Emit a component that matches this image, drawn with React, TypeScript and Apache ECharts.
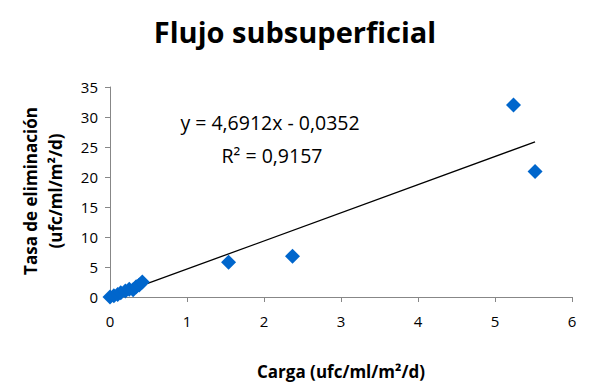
import React, { useEffect, useRef } from "react";
import * as echarts from "echarts";

// Carga (x) and Tasa de eliminación (y) for each sample
const cargaValues = [0, 0.05, 0.1, 0.14, 0.2, 0.25, 0.3, 0.34, 0.38, 0.42, 1.54, 2.37, 5.24, 5.52];
const tasaValues = [0, 0.2, 0.4, 0.7, 1.0, 1.3, 1.2, 1.7, 2.0, 2.5, 5.8, 6.8, 32.0, 20.9];

// Linear trend line coefficients and fit quality
const slope = 4.6912;
const intercept = -0.0352;
const rSquared = 0.9157;

const xTicks = [0, 1, 2, 3, 4, 5, 6];
const yTicks = [0, 5, 10, 15, 20, 25, 30, 35];

const fmt = (v: number, d: number) => v.toFixed(d).replace(".", ",");

export default function App() {
  const ref = useRef<HTMLDivElement>(null);

  useEffect(() => {
    if (!ref.current) return;
    const chart = echarts.init(ref.current, undefined, { renderer: "svg" });
    const points = cargaValues.map((x, i) => [x, tasaValues[i]]);
    const xMin = Math.min(...cargaValues);
    const xMax = Math.max(...cargaValues);
    const trend = [
      [xMin, slope * xMin + intercept],
      [xMax, slope * xMax + intercept],
    ];
    const font = "Open Sans";
    const axisColor = "#878787";

    const label = (text: string, x: number, y: number, size: number, bold: boolean, rotation = 0) => ({
      type: "text",
      x,
      y,
      rotation,
      style: {
        text,
        fontFamily: font,
        fontSize: size,
        fontWeight: bold ? "bold" : "normal",
        fill: "#000",
        align: "center",
        verticalAlign: "middle",
      },
    });

    chart.setOption({
      animation: false,
      backgroundColor: "#ffffff",
      textStyle: { fontFamily: font },
      title: {
        text: "Flujo subsuperficial",
        left: "center",
        top: 12,
        textStyle: { fontFamily: font, fontSize: 29, fontWeight: "bold", color: "#000" },
      },
      grid: { left: 110, right: 18, top: 87, bottom: 91 },
      xAxis: {
        type: "value",
        min: xTicks[0],
        max: xTicks[xTicks.length - 1],
        interval: 1,
        name: "Carga (ufc/ml/m²/d)",
        nameLocation: "middle",
        nameGap: 66,
        nameTextStyle: { fontFamily: font, fontSize: 17, fontWeight: "bold", color: "#000" },
        axisLine: { show: true, onZero: false, lineStyle: { color: axisColor, width: 1 } },
        axisTick: { show: true, length: 5, lineStyle: { color: axisColor } },
        axisLabel: { fontFamily: font, fontSize: 15, color: "#000", margin: 16 },
        splitLine: { show: false },
      },
      yAxis: {
        type: "value",
        min: yTicks[0],
        max: yTicks[yTicks.length - 1],
        interval: 5,
        axisLine: { show: true, onZero: false, lineStyle: { color: axisColor, width: 1 } },
        axisTick: { show: true, length: 5, lineStyle: { color: axisColor } },
        axisLabel: { fontFamily: font, fontSize: 15, color: "#000", margin: 12 },
        splitLine: { show: false },
      },
      graphic: [
        label("Tasa de eliminación", 30, 191, 17, true, Math.PI / 2),
        label("(ufc/ml/m²/d)", 55, 191, 17, true, Math.PI / 2),
        label(`y = ${fmt(slope, 4)}x - ${fmt(Math.abs(intercept), 4)}`, 270, 122, 19.5, false),
        label(`R² = ${fmt(rSquared, 4)}`, 272, 155, 19.5, false),
      ],
      series: [
        {
          type: "line",
          data: trend,
          showSymbol: false,
          symbol: "none",
          lineStyle: { color: "#000", width: 1.3 },
          z: 1,
          silent: true,
        },
        {
          type: "scatter",
          data: points,
          symbol: "diamond",
          symbolSize: 15,
          itemStyle: { color: "#0066cc", opacity: 1 },
          z: 2,
        },
      ],
    });
    return () => chart.dispose();
  }, []);

  return (
    <div
      ref={ref}
      style={{ position: "fixed", left: 0, top: 0, width: 590, height: 388 }}
    />
  );
}
